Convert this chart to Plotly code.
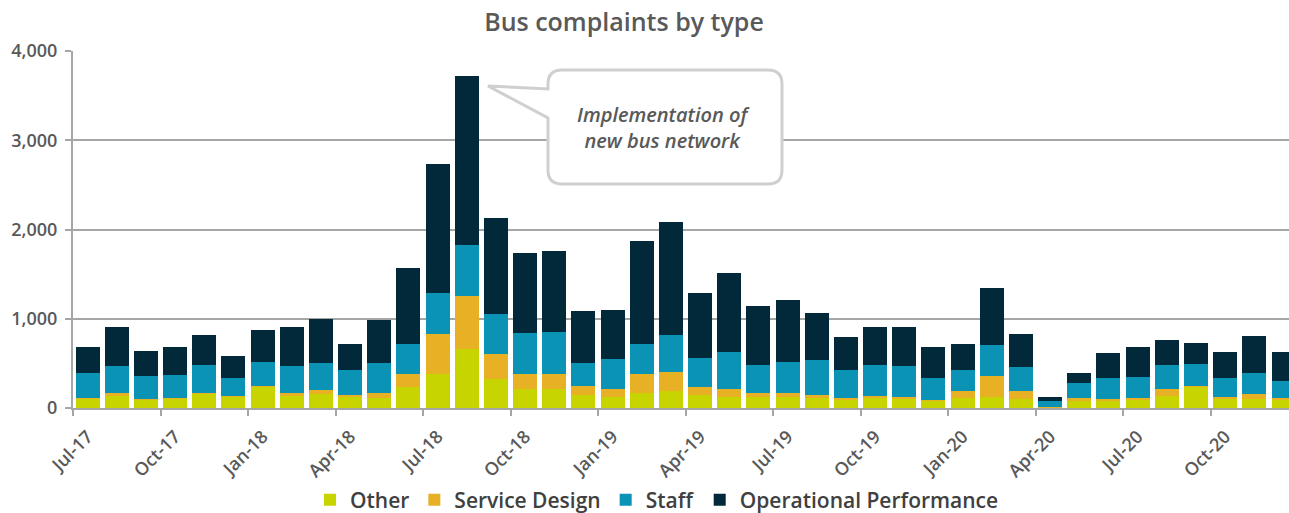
import plotly.graph_objects as go

# ------------------ Data ------------------
months = ['Jul-17', 'Aug-17', 'Sep-17', 'Oct-17', 'Nov-17', 'Dec-17',
          'Jan-18', 'Feb-18', 'Mar-18', 'Apr-18', 'May-18', 'Jun-18',
          'Jul-18', 'Aug-18', 'Sep-18', 'Oct-18', 'Nov-18', 'Dec-18',
          'Jan-19', 'Feb-19', 'Mar-19', 'Apr-19', 'May-19', 'Jun-19',
          'Jul-19', 'Aug-19', 'Sep-19', 'Oct-19', 'Nov-19', 'Dec-19',
          'Jan-20', 'Feb-20', 'Mar-20', 'Apr-20', 'May-20', 'Jun-20',
          'Jul-20', 'Aug-20', 'Sep-20', 'Oct-20', 'Nov-20', 'Dec-20']

other = [107, 145, 97, 107, 163, 127, 240, 145, 157, 132, 107, 240,
         385, 665, 320, 215, 215, 148, 127, 170, 185, 147, 127, 120,
         118, 113, 97, 107, 97, 82, 115, 127, 105, 10, 80, 82,
         99, 135, 240, 97, 97, 90]
service_design = [3, 18, 3, 3, 3, 3, 2, 18, 40, 11, 56, 145,
                  448, 586, 280, 161, 161, 104, 88, 206, 217, 93, 88, 45,
                  50, 38, 20, 33, 31, 8, 70, 227, 80, 5, 30, 16,
                  11, 75, 5, 30, 65, 20]
staff = [285, 311, 263, 264, 316, 204, 269, 311, 305, 278, 339, 332,
         456, 580, 454, 461, 472, 257, 334, 337, 420, 325, 417, 318,
         343, 386, 308, 340, 342, 246, 237, 348, 275, 65, 174, 238,
         240, 275, 252, 209, 230, 198]
operational = [289, 430, 280, 310, 340, 245, 363, 430, 499, 296, 484, 856,
               1440, 1886, 1072, 896, 915, 574, 553, 1155, 1259, 724, 885, 660,
               695, 524, 366, 424, 434, 348, 295, 643, 373, 47, 113, 281,
               334, 281, 227, 296, 411, 320]

series_names = ['Other', 'Service Design', 'Staff', 'Operational Performance']
series_values = [other, service_design, staff, operational]
series_colors = ['#C8D400', '#E8B025', '#0A93B5', '#02293A']

callout_text = 'Implementation of<br>new bus network'

# ------------------ Layout constants ------------------
W, H = 1289, 513
plot_l, plot_r, plot_t, plot_b = 73, 1289, 51, 408
grey = '#A6A6A6'
text_grey = '#595959'
font_family = 'Open Sans, DejaVu Sans, sans-serif'

x_idx = list(range(len(months)))


def px(x, y):
    # pixel position -> paper coordinates of the plot area
    return (x - plot_l) / (plot_r - plot_l), (plot_b - y) / (plot_b - plot_t)


fig = go.Figure()
for name, vals, color in zip(series_names, series_values, series_colors):
    fig.add_trace(go.Bar(x=x_idx, y=vals, name=name, marker=dict(color=color, line=dict(width=0)),
                         width=0.82))

# Callout bubble (rounded box with tail) drawn in paper coords
bx0, by0, bx1, by1, r = 548, 70, 782, 184, 14
tip = (488, 86)
rx = r / (plot_r - plot_l)
ry = r / (plot_b - plot_t)
x0, y0 = px(bx0, by0)
x1, y1 = px(bx1, by1)
ta_x, ta_y = px(bx0, 89)
tb_x, tb_y = px(bx0, 118)
tip_x, tip_y = px(*tip)
path = (f'M {x0 + rx} {y0} L {x1 - rx} {y0} Q {x1} {y0} {x1} {y0 - ry} '
        f'L {x1} {y1 + ry} Q {x1} {y1} {x1 - rx} {y1} '
        f'L {x0 + rx} {y1} Q {x0} {y1} {x0} {y1 + ry} '
        f'L {tb_x} {tb_y} L {tip_x} {tip_y} L {ta_x} {ta_y} '
        f'L {x0} {y0 - ry} Q {x0} {y0} {x0 + rx} {y0} Z')
fig.add_shape(type='path', path=path, xref='paper', yref='paper',
              fillcolor='white', line=dict(color='#CFCFCF', width=3), layer='above')
cx, cy = px((bx0 + bx1) / 2 - 2, (by0 + by1) / 2)
fig.add_annotation(x=cx, y=cy, xref='paper', yref='paper', text=callout_text, showarrow=False,
                   xanchor='center', yanchor='middle',
                   font=dict(family=font_family, size=20, color=text_grey, style='italic', weight=600),
                   align='center')

fig.update_layout(
    width=W, height=H,
    barmode='stack',
    paper_bgcolor='white', plot_bgcolor='white',
    margin=dict(l=plot_l, r=W - plot_r, t=plot_t, b=H - plot_b, pad=0, autoexpand=False),
    title=dict(text='Bus complaints by type', x=624 / W, xanchor='center', y=1 - 22 / H,
               yanchor='middle', font=dict(family=font_family, size=25, color=text_grey, weight=600)),
    legend=dict(orientation='h', xref='container', x=657 / W, xanchor='center',
                yref='container', y=1 - 500 / H, yanchor='middle',
                font=dict(family=font_family, size=21, color='#404040', weight=600),
                traceorder='normal', itemwidth=30, bgcolor='rgba(0,0,0,0)'),
    showlegend=True,
)

fig.update_xaxes(
    range=[-0.5, 41.19],
    tickmode='array', tickvals=x_idx[::3], ticktext=months[::3], tickangle=-45,
    ticks='', showgrid=False, zeroline=False, ticklabelstandoff=9,
    showline=True, linecolor=grey, linewidth=2,
    tickfont=dict(family=font_family, size=18, color=text_grey, weight=600),
    minor=dict(tickmode='array', tickvals=[i - 0.5 for i in x_idx[::3]], ticks='outside',
               ticklen=6, tickwidth=2, tickcolor=grey, showgrid=False),
)
fig.update_yaxes(
    range=[0, 4000], tickvals=[0, 1000, 2000, 3000, 4000], tickformat=',',
    showgrid=True, gridcolor=grey, gridwidth=2, zeroline=False,
    showline=True, linecolor=grey, linewidth=2, ticklabelstandoff=4,
    ticks='outside', ticklen=6, tickwidth=2, tickcolor=grey,
    tickfont=dict(family=font_family, size=18, color=text_grey, weight=600),
)

# the page body has a default 8px margin; drop it so the figure fills the window
fig.write_html('out.html', config={'displayModeBar': False},
               post_script="document.body.style.margin='0px';")
